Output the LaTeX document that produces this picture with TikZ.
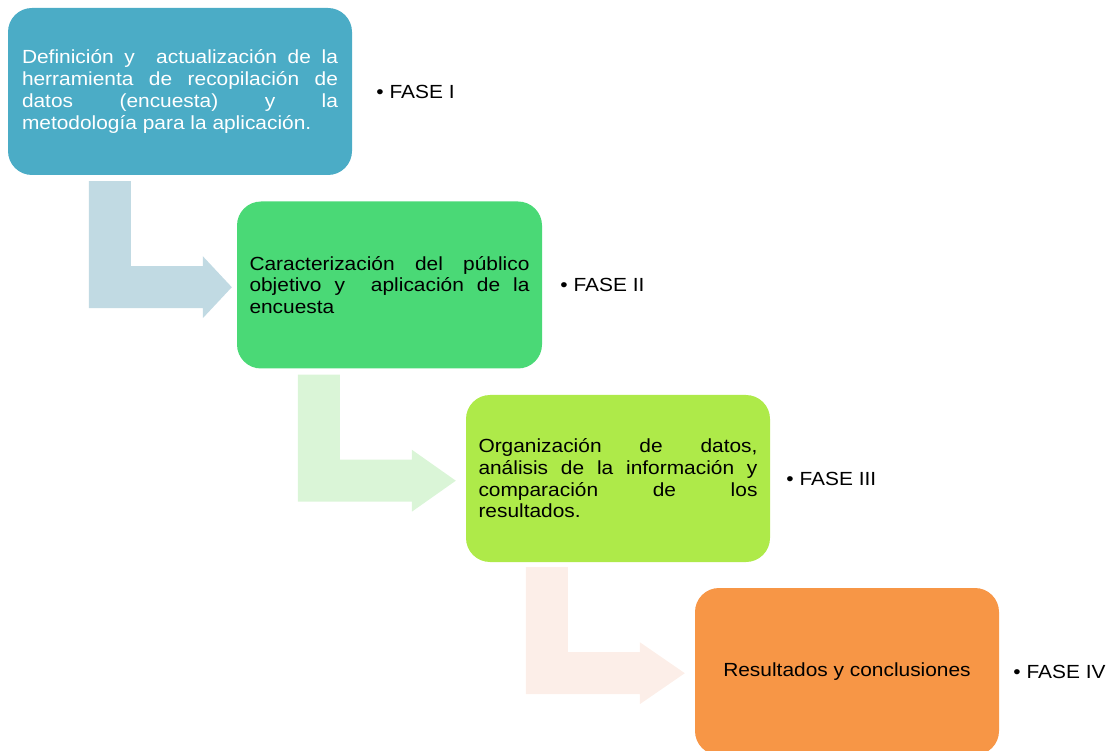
\documentclass[tikz,border=0pt]{standalone}
\usepackage{fontspec}
\setmainfont{Liberation Sans}[FakeStretch=1.1]
\usetikzlibrary{positioning}

\definecolor{faseuno}{HTML}{4BACC6}
\definecolor{fasedos}{HTML}{4AD976}
\definecolor{fasetres}{HTML}{AEEA49}
\definecolor{fasecuatro}{HTML}{F79646}
\definecolor{flechauno}{HTML}{C1DAE3}
\definecolor{flechados}{HTML}{DAF5D7}
\definecolor{flechatres}{HTML}{FCEEE8}

\tolerance=10000
\hyphenpenalty=10000

\tikzset{
	fase/.style={rounded corners=24pt, inner sep=0pt, minimum height=167pt, align=justify,
		font=\fontsize{19}{21.7}\selectfont},
	etiqueta/.style={inner sep=0pt, font=\fontsize{19}{21.7}\selectfont}
}

% flecha en L: color, nodo, dx, dy, punta
\newcommand{\flechaL}[5]{%
	\fill[#1, shift={(#2.south west)}, xshift=#3pt, yshift=-#4pt]
		(0,0) -- (42,0) -- (42,85) -- (114,85) -- (114,75) -- (#5,106)
		-- (114,137) -- (114,127) -- (0,127) -- cycle;}

\begin{document}
\begin{tikzpicture}[x=1pt,y=-1pt]
			\clip (0,0) rectangle (1117,751);
			\useasboundingbox (0,0) rectangle (1117,751);
			% cajas
			\node [fase, fill=faseuno, text=white, minimum width=344pt, text width=316pt] (b1) at (180,91.5)
				{Definición y\ \ actualización de la\linebreak herramienta de recopilación de\linebreak datos (encuesta) y la\linebreak metodología para la aplicación.};
			\node [fase, fill=fasedos, minimum width=305pt, text width=280pt] (b2) at (389.5,285)
				{Caracterización del público\linebreak objetivo y\ \ aplicación de la\linebreak encuesta};
			\node [fase, fill=fasetres, minimum width=304pt, text width=279pt] (b3) at (618,478.5)
				{Organización de datos,\linebreak análisis de la información y\linebreak comparación de los\linebreak resultados.};
			\node [fase, fill=fasecuatro, minimum width=304pt, align=center] (b4) at (847,671.5)
				{Resultados y conclusiones};
			% etiquetas
			\node [etiqueta, right=24pt of b1] (f1) {• FASE I};
			\node [etiqueta, right=18pt of b2] (f2) {• FASE II};
			\node [etiqueta, right=16pt of b3] (f3) {• FASE III};
			\node [etiqueta, right=14pt of b4] (f4) {• FASE IV};
			% flechas
			\flechaL{flechauno}{b1}{81}{6}{143}
			\flechaL{flechados}{b2}{61}{6}{158}
			\flechaL{flechatres}{b3}{60}{5}{159}
\end{tikzpicture}
\end{document}
